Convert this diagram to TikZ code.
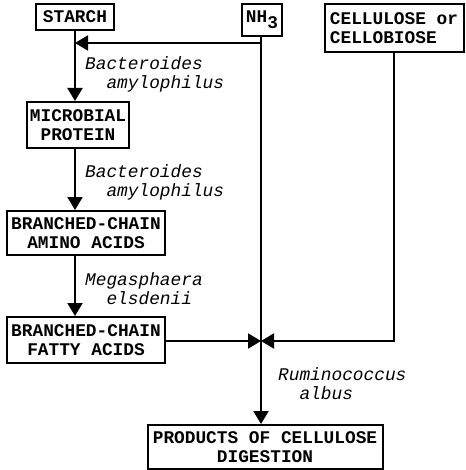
\documentclass[tikz,border=0pt]{standalone}
\usepackage{fontspec}
\setmonofont{Liberation Mono}
\usepackage{tikz}
\usetikzlibrary{arrows.meta}
\tikzstyle{process} = [rectangle, draw=black, line width=2pt, inner sep=0pt, align=center, font=\ttfamily\bfseries\fontsize{17.8}{19.5}\selectfont]
\tikzstyle{organism} = [anchor=north west, align=left, inner sep=0pt, font=\ttfamily\itshape\fontsize{17.8}{19}\selectfont]
\tikzstyle{arrow} = [line width=2pt, -{Triangle[length=13pt,width=15pt]}]
\tikzstyle{line} = [line width=2pt]

\begin{document}
\begin{tikzpicture}[x=1pt, y=-1pt]
				\useasboundingbox (0,0) rectangle (465,470);
				\node (starch) [process, minimum width=78pt, minimum height=26pt] at (75,17) {STARCH};
				\node (nh3) [process, minimum width=40pt, minimum height=32pt] at (262,20) {NH\raisebox{-6pt}{3}};
				\node (cell) [process, align=left, minimum width=139pt, minimum height=48pt] at (394,28) {CELLULOSE or\\CELLOBIOSE};
				\node (micro) [process, minimum width=102pt, minimum height=46pt] at (78,125) {MICROBIAL\\PROTEIN};
				\node (amino) [process, minimum width=158pt, minimum height=44pt] at (86,233) {BRANCHED-CHAIN\\AMINO ACIDS};
				\node (fatty) [process, minimum width=158pt, minimum height=46pt] at (86,340) {BRANCHED-CHAIN\\FATTY ACIDS};
				\node (products) [process, minimum width=235pt, minimum height=44pt] at (265,447) {PRODUCTS OF CELLULOSE\\DIGESTION};
				\node (bact1) [organism] at (85,56) {Bacteroides\\\hspace*{1.2em}amylophilus};
				\node (bact2) [organism] at (85,164) {Bacteroides\\\hspace*{1.2em}amylophilus};
				\node (mega) [organism] at (85,272) {Megasphaera\\\hspace*{1.2em}elsdenii};
				\node (rumino) [organism] at (278,367) {Ruminococcus\\\hspace*{1.2em}albus};
				\coordinate (tap) at (261,43);
				\coordinate (junc) at (261,341);
				\draw [arrow] (starch.south -| 75,0) -- (micro.north -| 75,0);
				\draw [arrow] (micro.south -| 75,0) -- (amino.north -| 75,0);
				\draw [arrow] (amino.south -| 75,0) -- (fatty.north -| 75,0);
				\draw [arrow] (tap) -- (tap -| 75,0);
				\draw [line] (nh3.south -| tap) -- (junc);
				\draw [arrow] (junc) -- (products.north -| junc);
				\draw [arrow] (fatty.east |- junc) -- (junc);
				\draw [arrow] (cell.south) |- (junc);
			\end{tikzpicture}
\end{document}
